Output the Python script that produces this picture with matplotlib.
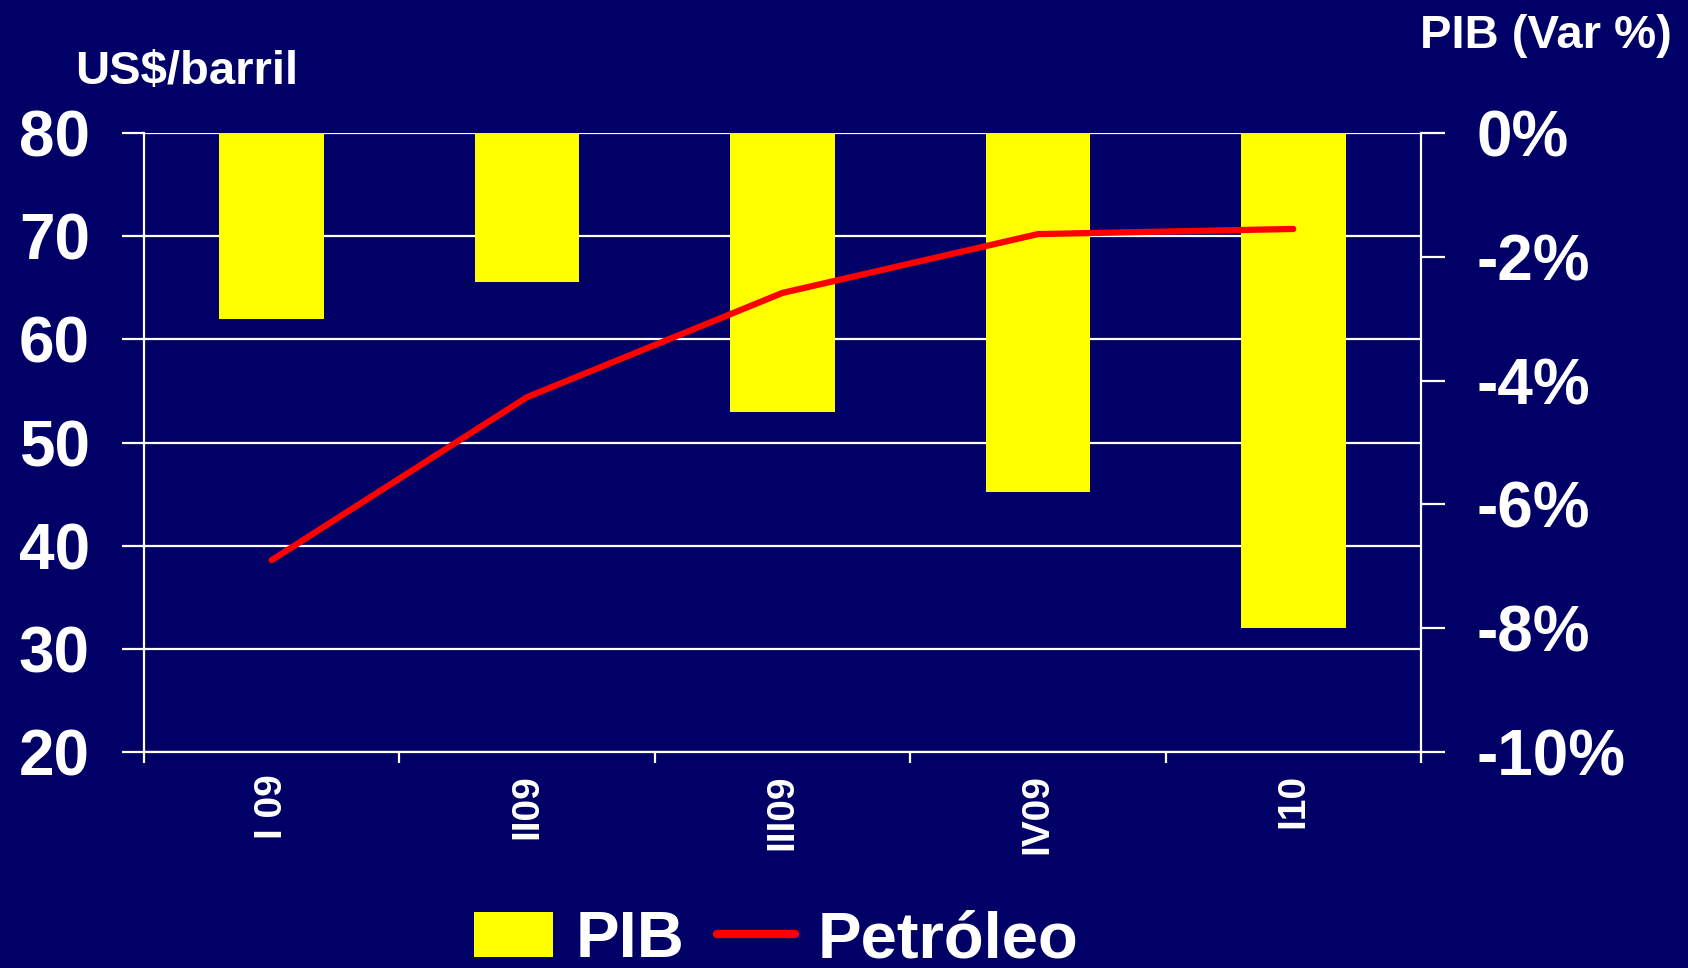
import numpy as np
import matplotlib
matplotlib.use('Agg')
import matplotlib.pyplot as plt
from matplotlib.ticker import FuncFormatter

quarters = ['I 09', 'II09', 'III09', 'IV09', 'I10']
pib = [-3.0, -2.4, -4.5, -5.8, -8.0]          # PIB (Var %)
petroleo = [38.6, 54.4, 64.5, 70.2, 70.7]     # US$/barril

navy = '#000066'
plt.rcParams['font.family'] = ['Liberation Sans', 'DejaVu Sans']
plt.rcParams['font.weight'] = 'bold'

fig = plt.figure(figsize=(16.88, 9.68), dpi=100, facecolor=navy)
ax = fig.add_axes([0.0853, 0.2231, 0.7565, 0.6395], facecolor=navy)
x = np.arange(len(quarters))

# left scale: grid + ticks
ax.set_ylim(20, 80)
ax.set_yticks(np.arange(20, 81, 10))
ax.grid(True, axis='y', color='white', lw=1.6)
ax.set_axisbelow(True)
ax.set_xlim(-0.5, len(quarters) - 0.5)
ax.set_xticks(x)
ax.set_xticklabels(quarters, rotation=90, fontsize=28, color='white', va='top')
ax.set_xticks(np.arange(-0.5, len(quarters), 1), minor=True)
ax.tick_params(axis='x', which='major', length=0, pad=16)
ax.tick_params(axis='x', which='minor', length=8, width=1.6, color='white')
ax.tick_params(axis='y', length=16, width=1.6, color='white', labelcolor='white',
               labelsize=46, pad=23)
for s in ['top', 'right']:
    ax.spines[s].set_visible(False)
for s in ['left', 'bottom']:
    ax.spines[s].set_color('white')
    ax.spines[s].set_linewidth(1.6)

# bars on right scale
axb = ax.twinx()
axb.bar(x, pib, width=0.41, color='#FFFF00', label='PIB', zorder=2)
axb.set_ylim(-10, 0)
axb.set_yticks(np.arange(-10, 1, 2))
axb.yaxis.set_major_formatter(FuncFormatter(lambda v, p: f'{v:.0f}%'))
axb.tick_params(axis='y', length=17, width=1.6, color='white', labelcolor='white',
                labelsize=46, pad=23)
for s in ['top', 'left', 'bottom']:
    axb.spines[s].set_visible(False)
axb.spines['right'].set_color('white')
axb.spines['right'].set_linewidth(1.6)

# line on left scale, on top of bars
axl = ax.twinx()
axl.plot(x, petroleo, color='#FF0000', lw=4.5, label='Petróleo', solid_capstyle='round')
axl.set_ylim(20, 80)
axl.set_yticks([])
for s in axl.spines.values():
    s.set_visible(False)

fig.text(75 / 1688, 1 - 84 / 968, 'US$/barril', color='white', fontsize=34,
         fontweight='bold', va='baseline', ha='left')
fig.text(1420 / 1688, 1 - 48 / 968, 'PIB (Var %)', color='white', fontsize=34,
         fontweight='bold', va='baseline', ha='left')

h1, l1 = axb.get_legend_handles_labels()
h2, l2 = axl.get_legend_handles_labels()
leg = fig.legend(h1 + h2, l1 + l2, loc='lower center', bbox_to_anchor=(0.46, -0.036),
                 ncol=2, frameon=False, fontsize=47, handlelength=1.2,
                 handletextpad=0.35, columnspacing=0.5, borderpad=0)
for t in leg.get_texts():
    t.set_color('white')
for ln in leg.get_lines():
    ln.set_linewidth(6)

fig.savefig('out.png', dpi=100, facecolor=navy)
